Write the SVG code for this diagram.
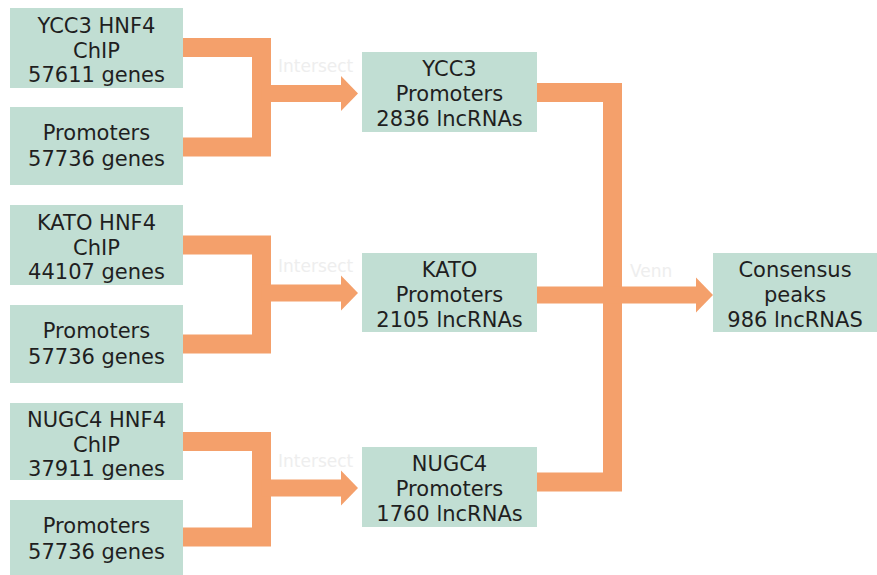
<svg xmlns="http://www.w3.org/2000/svg" width="877" height="575" viewBox="0 0 877 575">
<defs>
<style>
.box{fill:#C1DED3;}
.t{font-family:"DejaVu Sans","Liberation Sans",sans-serif;font-size:21px;fill:#1f1f1f;text-anchor:middle;}
.c{fill:none;stroke:#F4A06B;stroke-width:19;stroke-linejoin:miter;stroke-linecap:butt;}
.s{fill:none;stroke:#F4A06B;stroke-width:17;}
.h{fill:#F4A06B;}
.f{font-family:"DejaVu Sans","Liberation Sans",sans-serif;font-size:17px;fill:#eeeeee;}
</style>
</defs>
<rect width="877" height="575" fill="#ffffff"/>
<g id="connectors">
<path class="c" d="M183,47.5 H261.5 V147 H183"/>
<path class="s" d="M261.5,93.5 H343"/>
<polygon class="h" points="341,76 358,93.5 341,111"/>
<path class="c" d="M183,245 H261.5 V344 H183"/>
<path class="s" d="M261.5,293 H343"/>
<polygon class="h" points="341,275.5 358,293 341,310.5"/>
<path class="c" d="M183,441.5 H261.5 V537 H183"/>
<path class="s" d="M261.5,488 H343"/>
<polygon class="h" points="341,470.5 358,488 341,505.5"/>
<path class="c" d="M537,92.5 H612.5 V482 H537"/>
<path class="s" d="M537,295 H698"/>
<polygon class="h" points="696,277.5 713,295 696,312.5"/>
<text class="f" x="278" y="72">Intersect</text>
<text class="f" x="278" y="272">Intersect</text>
<text class="f" x="278" y="467">Intersect</text>
<text class="f" x="630" y="277">Venn</text>
</g>
<g id="ycc3-chip"><rect class="box" x="10" y="8" width="173" height="80"/>
<text class="t" x="96.5" y="33">YCC3 HNF4</text><text class="t" x="96.5" y="58">ChIP</text><text class="t" x="96.5" y="82">57611 genes</text></g>
<g id="ycc3-prom"><rect class="box" x="10" y="107" width="173" height="78"/>
<text class="t" x="96.5" y="140">Promoters</text><text class="t" x="96.5" y="166">57736 genes</text></g>
<g id="kato-chip"><rect class="box" x="10" y="205" width="173" height="80"/>
<text class="t" x="96.5" y="230">KATO HNF4</text><text class="t" x="96.5" y="255">ChIP</text><text class="t" x="96.5" y="279">44107 genes</text></g>
<g id="kato-prom"><rect class="box" x="10" y="305" width="173" height="78"/>
<text class="t" x="96.5" y="338">Promoters</text><text class="t" x="96.5" y="364">57736 genes</text></g>
<g id="nugc4-chip"><rect class="box" x="10" y="403" width="173" height="77"/>
<text class="t" x="96.5" y="427">NUGC4 HNF4</text><text class="t" x="96.5" y="452">ChIP</text><text class="t" x="96.5" y="476">37911 genes</text></g>
<g id="nugc4-prom"><rect class="box" x="10" y="500" width="173" height="75"/>
<text class="t" x="96.5" y="533">Promoters</text><text class="t" x="96.5" y="559">57736 genes</text></g>
<g id="ycc3-out"><rect class="box" x="362" y="52" width="175" height="80"/>
<text class="t" x="449.5" y="76">YCC3</text><text class="t" x="449.5" y="101">Promoters</text><text class="t" x="449.5" y="126">2836 lncRNAs</text></g>
<g id="kato-out"><rect class="box" x="362" y="253" width="175" height="79"/>
<text class="t" x="449.5" y="277">KATO</text><text class="t" x="449.5" y="302">Promoters</text><text class="t" x="449.5" y="327">2105 lncRNAs</text></g>
<g id="nugc4-out"><rect class="box" x="362" y="447" width="175" height="80"/>
<text class="t" x="449.5" y="471">NUGC4</text><text class="t" x="449.5" y="496">Promoters</text><text class="t" x="449.5" y="521">1760 lncRNAs</text></g>
<g id="consensus"><rect class="box" x="713" y="253" width="164" height="79"/>
<text class="t" x="795" y="277">Consensus</text><text class="t" x="795" y="302">peaks</text><text class="t" x="795" y="327">986 lncRNAS</text></g>
</svg>
